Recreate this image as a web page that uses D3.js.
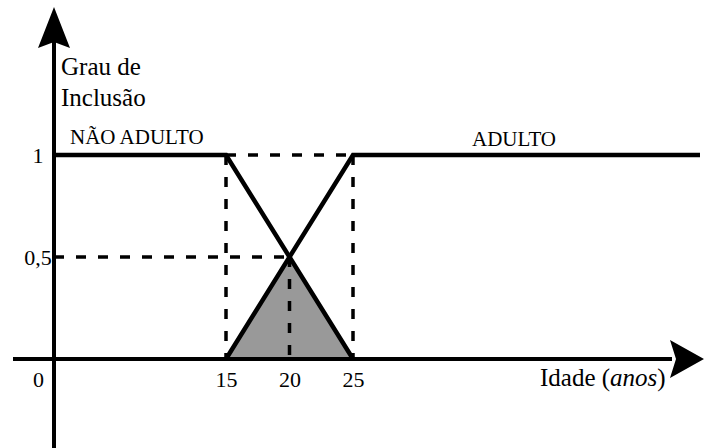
<!DOCTYPE html>
<html>
<head>
<meta charset="utf-8">
<script src="https://cdn.jsdelivr.net/npm/d3@7"></script>
<style>
  body { margin: 0; background: #fff; }
  svg { display: block; }
</style>
</head>
<body>
<div class="fuzzy-chart"></div>
<script>
// Idade (anos) breakpoints and degree of inclusion
var naoAdulto = [[0, 1], [15, 1], [25, 0]];
var adulto = [[15, 0], [25, 1], [50, 1]];
var intersecao = [[15, 0], [20, 0.5], [25, 0]];
var xTicks = [0, 15, 20, 25];
var yTicks = [0.5, 1];
var yTickLabels = ["0,5", "1"];

var width = 704, height = 448;
var serif = "Liberation Serif";

var svg = d3.select(".fuzzy-chart")
    .append("svg")
    .attr("width", width)
    .attr("height", height)
    .attr("font-family", serif);

// axis is not to scale between 0 and 15, so a piecewise scale
var x = d3.scaleLinear()
    .domain([0, 15, 25, 50])
    .range([54, 226, 353, 700]);

var y = d3.scaleLinear()
    .domain([0, 1])
    .range([359, 155]);

var line = d3.line()
    .x(d => x(d[0]))
    .y(d => y(d[1]));

// shaded intersection
svg.append("path")
    .datum(intersecao)
    .attr("d", line)
    .attr("fill", "#999999")
    .attr("stroke", "none");

// dashed guide lines
var guides = [
    [[15, 1], [25, 1]],
    [[15, 1], [15, 0]],
    [[25, 1], [25, 0]],
    [[0, 0.5], [20, 0.5]],
    [[20, 0.5], [20, 0]]
];
svg.selectAll(".guide")
    .data(guides)
    .join("path")
    .attr("class", "guide")
    .attr("d", line)
    .attr("fill", "none")
    .attr("stroke", "#000")
    .attr("stroke-width", 3.5)
    .attr("stroke-dasharray", "10,12");

// axes
var x0 = x(0), y0 = y(0);
svg.append("line")
    .attr("x1", x0 - 41).attr("x2", 672)
    .attr("y1", y0).attr("y2", y0)
    .attr("stroke", "#000").attr("stroke-width", 4);
svg.append("path")
    .attr("d", `M704,${y0} L670,${y0 - 19} L676,${y0} L670,${y0 + 19} Z`)
    .attr("fill", "#000");

svg.append("line")
    .attr("x1", x0).attr("x2", x0)
    .attr("y1", height).attr("y2", 40)
    .attr("stroke", "#000").attr("stroke-width", 4);
svg.append("path")
    .attr("d", `M${x0},7 L${x0 + 16},48 L${x0},42 L${x0 - 16},48 Z`)
    .attr("fill", "#000");

// membership functions
svg.selectAll(".mf")
    .data([naoAdulto, adulto])
    .join("path")
    .attr("class", "mf")
    .attr("d", line)
    .attr("fill", "none")
    .attr("stroke", "#000")
    .attr("stroke-width", 4.5)
    .attr("stroke-linejoin", "miter");

// tick labels
svg.append("g")
    .attr("transform", `translate(0,${y0})`)
    .call(d3.axisBottom(x).tickValues(xTicks).tickSize(0).tickPadding(12))
    .attr("font-family", serif)
    .attr("font-size", 22)
    .call(g => g.select(".domain").remove())
    .call(g => g.selectAll(".tick text")
        .attr("x", d => d === 0 ? -16 : 0));

svg.append("g")
    .attr("transform", `translate(${x0},0)`)
    .call(d3.axisLeft(y).tickValues(yTicks).tickSize(0)
        .tickFormat((d, i) => yTickLabels[i]))
    .attr("font-family", serif)
    .attr("font-size", 22)
    .call(g => g.select(".domain").remove())
    .call(g => g.selectAll(".tick text")
        .attr("x", -16)
        .attr("text-anchor", "middle"));

// labels
function label(txt, lx, ly, size) {
    return svg.append("text")
        .attr("x", lx).attr("y", ly)
        .attr("font-family", serif)
        .attr("font-size", size)
        .text(txt);
}
label("Grau de", x0 + 7, 75, 25);
label("Inclusão", x0 + 7, 106, 25);
label("NÃO ADULTO", x0 + 16, 144, 21);
label("ADULTO", x(25) + 119, 146, 21);

var xl = svg.append("text")
    .attr("x", 540).attr("y", 386)
    .attr("font-family", serif)
    .attr("font-size", 25);
xl.append("tspan").text("Idade (");
xl.append("tspan").attr("font-style", "italic").text("anos");
xl.append("tspan").text(")");
</script>
</body>
</html>
